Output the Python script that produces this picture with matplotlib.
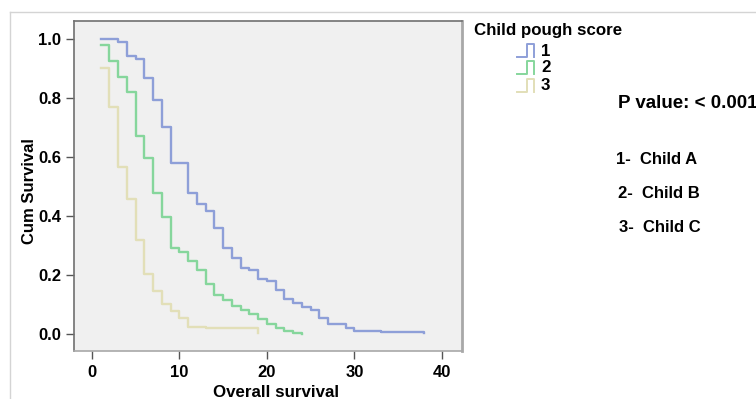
import matplotlib
matplotlib.use("Agg")
import matplotlib.pyplot as plt
from matplotlib.lines import Line2D

plt.rcParams['font.family'] = ['Liberation Sans', 'DejaVu Sans']
plt.rcParams['font.weight'] = 'bold'

# Data
t1 = [1, 3, 4, 5, 6, 7, 8, 9, 11, 12, 13, 14, 15, 16, 17, 18, 19, 20, 21, 22,
      23, 24, 25, 26, 27, 29, 30, 33, 38]
s1 = [1.0, 0.99, 0.942, 0.931, 0.867, 0.793, 0.703, 0.581, 0.479, 0.441, 0.418,
      0.358, 0.29, 0.257, 0.225, 0.217, 0.185, 0.18, 0.149, 0.117, 0.106, 0.09,
      0.081, 0.055, 0.033, 0.019, 0.01, 0.006, 0.002]
t2 = [1, 2, 3, 4, 5, 6, 7, 8, 9, 10, 11, 12, 13, 14, 15, 16, 17, 18, 19, 20,
      21, 22, 23, 24]
s2 = [0.98, 0.927, 0.87, 0.819, 0.671, 0.598, 0.477, 0.396, 0.292, 0.279, 0.247,
      0.217, 0.168, 0.132, 0.115, 0.095, 0.081, 0.067, 0.05, 0.033, 0.019, 0.01,
      0.002, 0.0]
t3 = [1, 2, 3, 4, 5, 6, 7, 8, 9, 10, 11, 13, 19]
s3 = [0.903, 0.771, 0.565, 0.457, 0.319, 0.202, 0.146, 0.103, 0.078, 0.053,
      0.025, 0.019, 0.004]

groups = ['1', '2', '3']
colors = ['#8e9fd8', '#86d69c', '#e2dfb8']
yticks = [0.0, 0.2, 0.4, 0.6, 0.8, 1.0]
xticks = [0, 10, 20, 30, 40]

W, H = 756, 399
fig = plt.figure(figsize=(W / 100, H / 100), dpi=100)
fig.patch.set_facecolor('white')

# outer light frame
fig.add_artist(Line2D([9.5 / W, 9.5 / W], [0, 1 - 12 / H], transform=fig.transFigure,
                      color='#d4d4d4', lw=1))
fig.add_artist(Line2D([9.5 / W, 1], [1 - 12 / H, 1 - 12 / H], transform=fig.transFigure,
                      color='#d4d4d4', lw=1))

ax = fig.add_axes([73.5 / W, 1 - 351 / H, (462 - 73.5) / W, (351 - 21) / H])
ax.set_facecolor('#f0f0f0')

for t, s, c in zip([t1, t2, t3], [s1, s2, s3], colors):
    ax.step(t, s, where='post', color=c, lw=1.7)

ax.set_xlim(-2.1, 42.3)
ax.set_ylim(-0.058, 1.061)
ax.set_xticks(xticks)
ax.set_yticks(yticks)
ax.set_yticklabels([f'{v:.1f}' for v in yticks])
ax.tick_params(axis='both', direction='out', length=6, width=1, color='#555555',
               labelsize=12, pad=3)
ax.tick_params(axis='x', pad=4)
for lab in ax.get_xticklabels() + ax.get_yticklabels():
    lab.set_fontweight('bold')
for sp in ax.spines.values():
    sp.set_color('#707070')
    sp.set_linewidth(1.2)
ax.spines['right'].set_color('#a8a8a8')
ax.spines['right'].set_linewidth(2)
ax.spines['bottom'].set_color('#a8a8a8')

ax.set_ylabel('Cum Survival', fontsize=12, fontweight='bold', va='center')
ax.yaxis.set_label_coords(-0.113, 0.485)
ax.set_xlabel('Overall survival', fontsize=12.2, fontweight='bold', va='center')
ax.xaxis.set_label_coords(0.521, -0.125)

# legend
fig.text(474 / W, 1 - 31 / H, 'Child pough score', fontsize=12.2, fontweight='bold',
         va='center', ha='left')
leg_top = [43.5, 61, 78.5]
leg_lab = [51, 67.5, 86]
for g, c, yy, yl in zip(groups, colors, leg_top, leg_lab):
    xs = [517, 527, 527, 533.5, 533.5]
    ys = [yy + 13, yy + 13, yy, yy, yy + 13]
    fig.add_artist(Line2D([x / W for x in xs], [1 - y / H for y in ys],
                          transform=fig.transFigure, color=c, lw=1.4))
    fig.text(541 / W, 1 - yl / H, g, fontsize=12.2, fontweight='bold',
             va='center', ha='left')

fig.text(618 / W, 1 - 104 / H, 'P value: < 0.001', fontsize=13.5, fontweight='bold',
         va='center', ha='left')
fig.text(616 / W, 1 - 160 / H, '1-  Child A', fontsize=12, fontweight='bold',
         va='center', ha='left')
fig.text(618 / W, 1 - 194 / H, '2-  Child B', fontsize=12, fontweight='bold',
         va='center', ha='left')
fig.text(619 / W, 1 - 228 / H, '3-  Child C', fontsize=12, fontweight='bold',
         va='center', ha='left')

fig.savefig('out.png', dpi=100, facecolor='white')
